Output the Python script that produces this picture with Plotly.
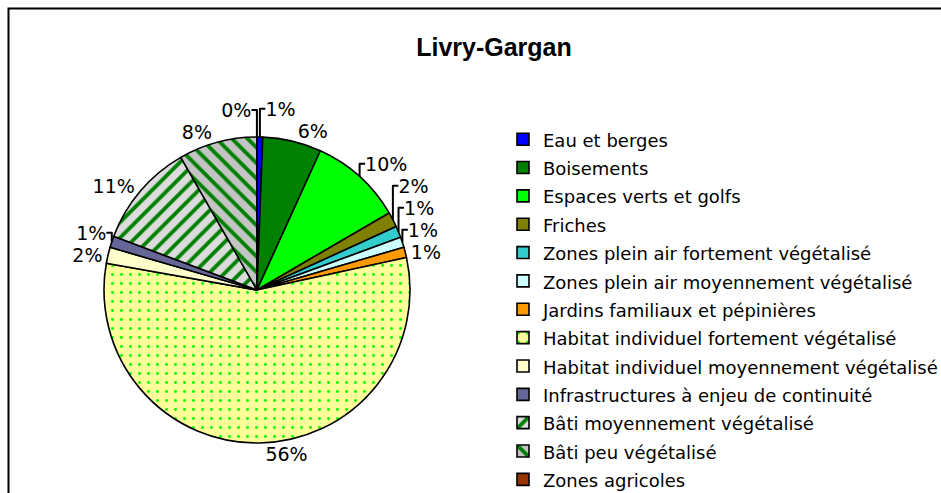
import plotly.graph_objects as go

title_text = "Livry-Gargan"
categories = [
    "Eau et berges",
    "Boisements",
    "Espaces verts et golfs",
    "Friches",
    "Zones plein air fortement végétalisé",
    "Zones plein air moyennement végétalisé",
    "Jardins familiaux et pépinières",
    "Habitat individuel fortement végétalisé",
    "Habitat individuel moyennement végétalisé",
    "Infrastructures à enjeu de continuité",
    "Bâti moyennement végétalisé",
    "Bâti peu végétalisé",
    "Zones agricoles",
]
values = [0.6, 6.2, 9.8, 1.6, 1.2, 1.1, 1.1, 56.2, 1.7, 1.2, 11.0, 8.28, 0.02]

fill_colors = ["#0000ff", "#008000", "#00ff00", "#808000", "#33cccc", "#ccffff",
               "#ff9900", "#ffff99", "#ffffcc", "#666699", "#dcdcdc", "#c4c4c4",
               "#993300"]
pattern_shapes = ["", "", "", "", "", "", "", ".", "", "", "/", "\\", ""]
pattern_fg = ["#000000"] * 7 + ["#00ff00", "#000000", "#000000", "#008000", "#008000", "#000000"]
pattern_size = [8] * 7 + [9, 8, 8, 11, 11, 8]
pattern_solidity = [0.3] * 7 + [0.08, 0.3, 0.3, 0.35, 0.35, 0.3]

W, H = 941, 493
legend_labels = [f"<span style='font-size:18px'>{c}</span>" for c in categories]

# pie centre / radius in window pixels
cx, cy, r = 257, 290, 153

fig = go.Figure(go.Pie(
    labels=legend_labels,
    values=values,
    sort=False,
    direction="clockwise",
    rotation=0,
    textposition="outside",
    texttemplate="%{percent:.0%}",
    outsidetextfont=dict(family="DejaVu Sans", size=19, color="#000000"),
    automargin=False,
    marker=dict(
        colors=fill_colors,
        line=dict(color="#000000", width=1.6),
        pattern=dict(shape=pattern_shapes, fgcolor=pattern_fg, bgcolor=fill_colors,
                     size=pattern_size, solidity=pattern_solidity, fillmode="replace"),
    ),
    domain=dict(x=[(cx - r) / W, (cx + r) / W], y=[(H - cy - r) / H, (H - cy + r) / H]),
    hoverinfo="label+percent",
))

fig.update_layout(
    width=W, height=H,
    margin=dict(l=0, r=0, t=0, b=0, autoexpand=False),
    paper_bgcolor="#ffffff",
    plot_bgcolor="#ffffff",
    title=dict(text=f"<b>{title_text}</b>", x=494 / W, xanchor="center",
               y=1 - 47.5 / H, yanchor="middle", yref="container",
               font=dict(family="Liberation Sans", size=25, color="#000000")),
    legend=dict(x=503 / W, y=1 - 120 / H, xanchor="left", yanchor="top",
                font=dict(family="DejaVu Sans", size=19.5, color="#000000"),
                bgcolor="rgba(0,0,0,0)", traceorder="normal"),
    shapes=[dict(type="rect", xref="paper", yref="paper",
                 x0=8.5 / W, x1=1.05, y0=-0.05, y1=1 - 8.5 / H,
                 line=dict(color="#000000", width=2), fillcolor="rgba(0,0,0,0)")],
)

fig.write_html(
    "out.html",
    config={"displayModeBar": False},
    post_script=("document.documentElement.style.overflow='hidden';"
                 "document.body.style.margin='0';"
                 "document.body.style.overflow='hidden';"),
)
